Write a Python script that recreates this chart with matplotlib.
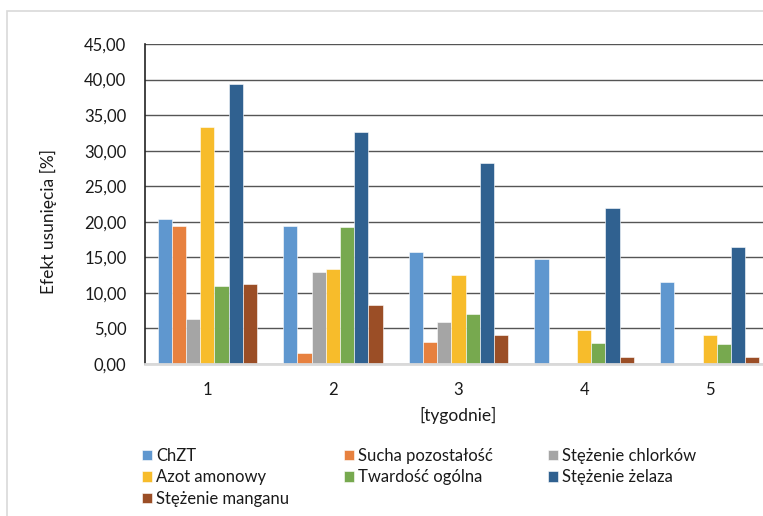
import numpy as np
import matplotlib.pyplot as plt
from matplotlib.patches import Rectangle
from matplotlib.ticker import FuncFormatter

plt.rcParams['font.family'] = ['Lato', 'DejaVu Sans']

# Data
weeks = ['1', '2', '3', '4', '5']
series = ['ChZT', 'Sucha pozostałość', 'Stężenie chlorków', 'Azot amonowy',
          'Twardość ogólna', 'Stężenie żelaza', 'Stężenie manganu']
chzt = [20.4, 19.45, 15.7, 14.8, 11.5]
sucha = [19.4, 1.6, 3.1, 0.0, 0.0]
chlorki = [6.3, 13.0, 5.9, 0.0, 0.0]
azot = [33.3, 13.3, 12.5, 4.8, 4.1]
twardosc = [11.0, 19.2, 7.1, 2.9, 2.85]
zelazo = [39.4, 32.6, 28.3, 22.0, 16.4]
mangan = [11.3, 8.35, 4.1, 1.0, 1.0]
values = [chzt, sucha, chlorki, azot, twardosc, zelazo, mangan]
colors = ['#5f97cf', '#e7813f', '#a5a5a5', '#f7bc2b', '#77a94f', '#306190', '#9b4e26']

fig = plt.figure(figsize=(7.63, 5.16), dpi=100)
# light frame around the chart
fig.patches.append(Rectangle((7 / 763, -0.1), 1.2, 1 - 11 / 516 + 0.1,
                             transform=fig.transFigure, fill=False,
                             edgecolor='#d9d9d9', linewidth=1.2))

ax = fig.add_axes([144.5 / 763, 1 - 364 / 516, 628 / 763, 320 / 516])

x = np.arange(len(weeks))
bw = 0.113
handles = []
for i, (name, vals, c) in enumerate(zip(series, values, colors)):
    off = (i - 3) * bw
    b = ax.bar(x + off, vals, bw, color=c, edgecolor='white', linewidth=0.4,
               label=name, zorder=3)
    handles.append(b)

ax.set_xlim(-0.5, 4.5)
ax.set_ylim(0, 45)
ax.set_yticks(np.arange(0, 46, 5))
ax.yaxis.set_major_formatter(FuncFormatter(lambda v, p: f'{v:.2f}'.replace('.', ',')))
ax.set_xticks(x)
ax.set_xticklabels(weeks)
ax.grid(axis='y', color='#555555', linewidth=1, zorder=0)
ax.tick_params(axis='x', length=0, pad=13, labelsize=12, colors='#1a1a1a')
ax.tick_params(axis='y', length=0, pad=13, labelsize=12, colors='#1a1a1a')

for s in ['top', 'right']:
    ax.spines[s].set_visible(False)
ax.spines['left'].set_color('#222222')
ax.spines['left'].set_linewidth(1.2)
ax.spines['bottom'].set_color('#d9d9d9')
ax.spines['bottom'].set_linewidth(2)
ax.spines['bottom'].set_zorder(4)

fig.text(458 / 763, 1 - 415 / 516, '[tygodnie]', ha='center', va='center',
         fontsize=12.5, color='#1a1a1a')
fig.text(48 / 763, 1 - 222 / 516, 'Efekt usunięcia [%]', ha='center', va='center',
         rotation=90, fontsize=12.5, color='#1a1a1a')

# legend in the row order used by the original (3 columns)
order = [0, 3, 6, 1, 4, 2, 5]
leg = fig.legend([handles[i] for i in order], [series[i] for i in order],
                 ncol=3, loc='upper left', bbox_to_anchor=(142 / 763, 1 - 448 / 516),
                 frameon=False, fontsize=12, handlelength=0.6, handleheight=0.6,
                 handletextpad=0.25, columnspacing=3.3, labelspacing=0.32,
                 borderaxespad=0, borderpad=0)
for t in leg.get_texts():
    t.set_color('#1a1a1a')

fig.savefig('out.png', dpi=100)
